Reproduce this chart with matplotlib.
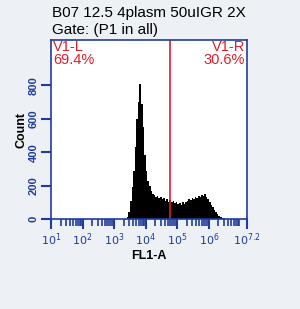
import numpy as np
import matplotlib
matplotlib.use("Agg")
import matplotlib.pyplot as plt
from matplotlib.ticker import FixedLocator

plt.rcParams["font.family"] = ["Liberation Sans", "DejaVu Sans"]

# histogram: log10(FL1-A) bins of 0.05 decade from 3.30
bin_start = 3.30
bin_width = 0.05
counts = [0, 3, 15, 45, 110, 190, 290, 430, 600, 700,
          810, 690, 550, 380, 290, 230, 195, 170, 150, 145,
          130, 135, 125, 130, 118, 125, 110, 120, 105, 115,
          100, 110, 95, 105, 90, 98, 85, 100, 92, 105,
          110, 118, 112, 125, 118, 130, 125, 140, 132, 145,
          138, 150, 130, 120, 105, 85, 70, 55, 40, 28,
          18, 12, 7, 4, 2, 0]
gate_pos = 10 ** 4.77
gate_names = ["V1-L", "V1-R"]
gate_pcts = ["69.4%", "30.6%"]
title_lines = ["B07 12.5 4plasm 50uIGR 2X", "Gate: (P1 in all)"]
x_decades = [1, 2, 3, 4, 5, 6, 7.2]
y_ticks = [0, 200, 400, 600, 800]

blue = "#1f3c9c"
red = "#e01e2a"
bg = "#edf1f5"

edges = 10 ** (bin_start + bin_width * np.arange(len(counts) + 1))

fig = plt.figure(figsize=(3.0, 3.09), dpi=100, facecolor=bg)
ax = fig.add_axes([0.17, 0.291, 0.653, 0.579])
ax.set_facecolor("white")

ax.stairs(counts, edges, fill=True, color="black", linewidth=0)
ax.axvline(gate_pos, color=red, linewidth=1.2)

ax.set_xscale("log")
ax.set_xlim(10 ** 1, 10 ** 7.2)
ax.set_ylim(0, 1069)

ax.xaxis.set_major_locator(FixedLocator([10 ** d for d in x_decades]))
minors = [m * 10 ** d for d in range(1, 8) for m in range(2, 10) if m * 10 ** d < 10 ** 7.2]
ax.xaxis.set_minor_locator(FixedLocator(minors))
ax.set_xticklabels([r"$10^{%g}$" % d for d in x_decades])
ax.set_yticks(y_ticks)
ax.set_yticklabels([str(v) for v in y_ticks], rotation=90, va="center")

for s in ax.spines.values():
    s.set_color(blue)
    s.set_linewidth(1.2)
ax.tick_params(axis="both", colors=blue, labelsize=8, width=1.5, length=7,
               direction="out", pad=2)
ax.tick_params(axis="x", which="minor", colors=blue, width=1.2, length=5)
for lbl in ax.get_xticklabels() + ax.get_yticklabels():
    lbl.set_fontweight("bold")

ax.set_xlabel("FL1-A", fontsize=9, fontweight="bold", labelpad=1)
ax.set_ylabel("Count", fontsize=9, fontweight="bold", labelpad=1)

fig.text(52 / 300, 1 - 13 / 309, title_lines[0], fontsize=11, va="center", ha="left")
fig.text(52 / 300, 1 - 30 / 309, title_lines[1], fontsize=11, va="center", ha="left")

ax.text(0.01, 1.0, gate_names[0] + "\n" + gate_pcts[0], transform=ax.transAxes,
        color=red, fontsize=10.5, va="top", ha="left", linespacing=0.9)
ax.text(0.99, 1.0, gate_names[1] + "\n" + gate_pcts[1], transform=ax.transAxes,
        color=red, fontsize=10.5, va="top", ha="right", linespacing=0.9,
        multialignment="right")

fig.savefig("out.png", dpi=100, facecolor=bg)
